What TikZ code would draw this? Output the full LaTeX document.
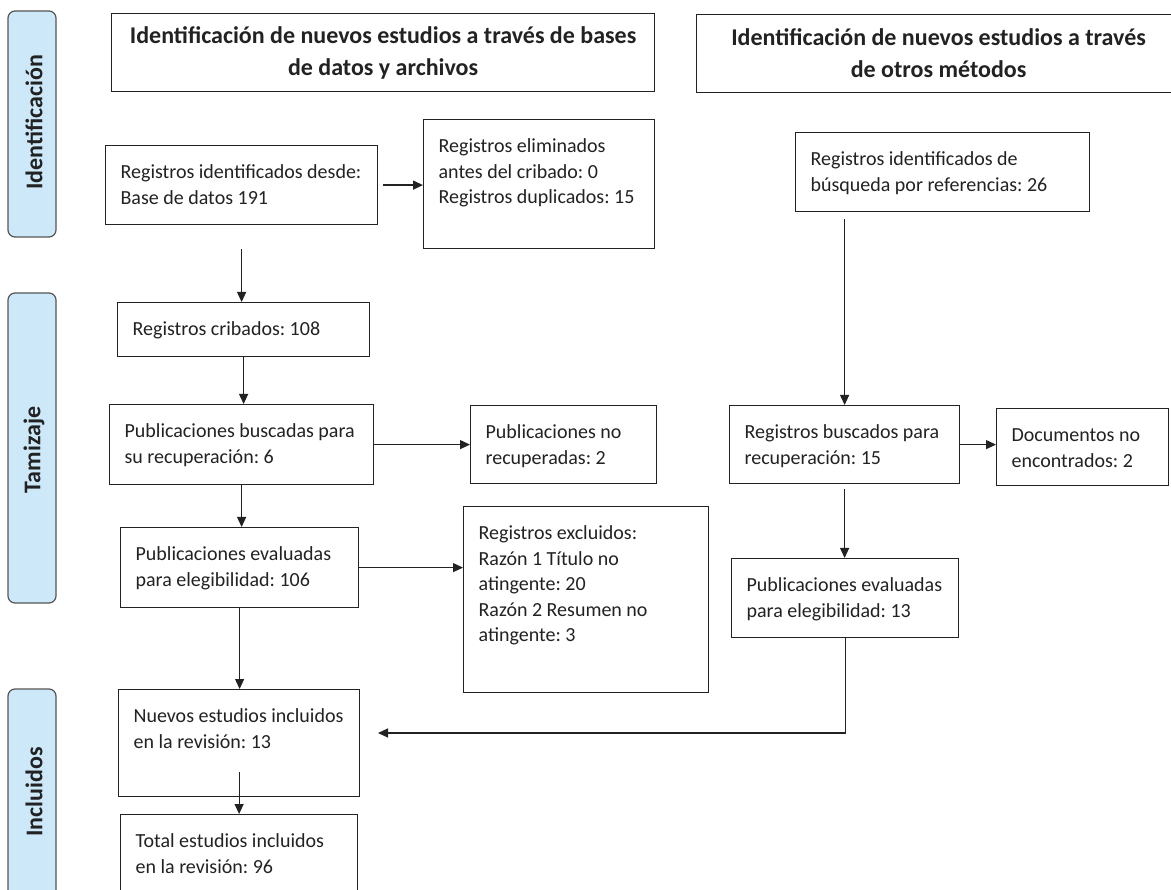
\documentclass[tikz,border=0pt]{standalone}
\usepackage{fontspec}
\setmainfont{Carlito}
\usetikzlibrary{arrows.meta,calc}
\definecolor{sidefill}{HTML}{CDE9F9}
\definecolor{sidedraw}{HTML}{555555}
\definecolor{ink}{HTML}{222222}
\frenchspacing
\newcommand\bt[3]{\parbox[c][#2pt][t]{#1pt}{\raggedright\leftskip=15pt\relax\fontsize{20}{25.5}\selectfont\rule{0pt}{33pt}#3\par}}
\begin{document}
\begin{tikzpicture}[x=1pt,y=-1pt,
  box/.style={draw=ink, line width=1.2pt, inner sep=0pt, anchor=north west, text=ink},
  head/.style={box, align=center, font=\bfseries\fontsize{24}{32}\selectfont},
  sidebox/.style={draw=sidedraw, fill=sidefill, line width=1.2pt, rounded corners=7pt, inner sep=0pt},
  sidetext/.style={rotate=90, text=ink, font=\bfseries\fontsize{24}{28}\selectfont, inner sep=0pt},
  arr/.style={draw=ink, line width=1.2pt, -{Triangle[length=10pt,width=9pt]}},
  ln/.style={draw=ink, line width=1.2pt}]
\useasboundingbox (0,0) rectangle (1171,890);
\fill[white] (0,0) rectangle (1171,890);

% side labels
\node[sidebox, minimum width=48pt, minimum height=226pt] (S1) at (32,124) {};
\node[sidetext] (S1t) at (34,122) {Identificación};
\node[sidebox, minimum width=48pt, minimum height=310pt] (S2) at (32,448) {};
\node[sidetext] (S2t) at (34,450) {Tamizaje};
\node[sidebox, minimum width=48pt, minimum height=210pt] (S3) at (32,794) {};
\node[sidetext] (S3t) at (34,792) {Incluidos};

% headers
\node[head, minimum width=543pt, minimum height=78pt] (H1) at (111,13) {Identificación de nuevos estudios a través de bases\\de datos y archivos};
\node[head, minimum width=484pt, minimum height=78pt] (H2) at (696,14) {Identificación de nuevos estudios a través\\de otros métodos};

% boxes
\node[box] (A) at (105,145) {\bt{272}{79}{Registros identificados desde:\\Base de datos 191}};
\node[box] (B) at (423,119) {\bt{231}{129}{Registros eliminados\\antes del cribado: 0\\Registros duplicados: 15}};
\node[box] (C) at (795,132) {\bt{294}{79}{Registros identificados de\\búsqueda por referencias: 26}};
\node[box] (E) at (117,302) {\bt{252}{54}{Registros cribados: 108}};
\node[box] (F) at (109,404) {\bt{264}{80}{Publicaciones buscadas para\\su recuperación: 6}};
\node[box] (G) at (470,405) {\bt{186}{78}{Publicaciones no\\recuperadas: 2}};
\node[box] (D) at (729,405) {\bt{230}{78}{Registros buscados para\\recuperación: 15}};
\node[box] (J) at (996,408) {\bt{172}{77}{Documentos no\\encontrados: 2}};
\node[box] (H) at (120,527) {\bt{238}{80}{Publicaciones evaluadas\\para elegibilidad: 106}};
\node[box] (I) at (463,506) {\bt{245}{186}{Registros excluidos:\\Razón 1 Título no\\atingente: 20\\Razón 2 Resumen no\\atingente: 3}};
\node[box] (K) at (731,558) {\bt{227}{79}{Publicaciones evaluadas\\para elegibilidad: 13}};
\node[box] (L) at (118,689) {\bt{241}{107}{Nuevos estudios incluidos\\en la revisión: 13}};
\node[box] (M) at (120,814) {\bt{237}{90}{Total estudios incluidos\\en la revisión: 96}};

\coordinate (lt) at (378,733);

% connectors
\draw[arr] ([xshift=5pt]A.east) -- (A.east -| B.west);
\draw[arr] ([yshift=-24pt]A.south) -- (A.south |- E.north);
\draw[arr] ([yshift=-7pt]C.south -| D.north) -- (D.north);
\draw[arr] (E.south) -- (E.south |- F.north);
\draw[arr] (F.east) -- (F.east -| G.west);
\draw[arr] (F.south) -- (F.south |- H.north);
\draw[arr] (H.east) -- (H.east -| I.west);
\draw[arr] (D.east) -- (D.east -| J.west);
\draw[arr] ([yshift=-5pt]D.south) -- (D.south |- K.north);
\draw[arr] (K.south) |- (lt);
\draw[arr] (H.south) -- (H.south |- L.north);
\draw[arr] ([yshift=25pt]L.south) -- (L.south |- M.north);
\end{tikzpicture}
\end{document}
